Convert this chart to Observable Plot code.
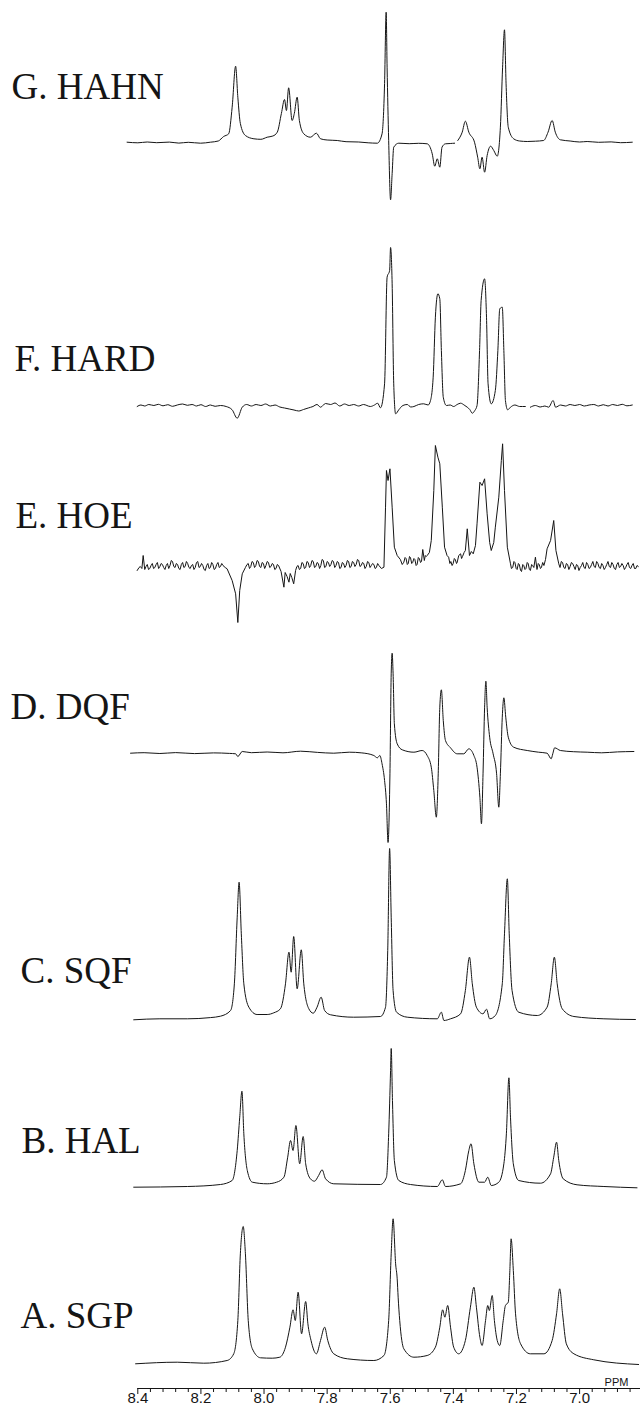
<!DOCTYPE html>
<html><head><meta charset="utf-8">
<script src="https://cdn.jsdelivr.net/npm/d3@7"></script>
<script src="https://cdn.jsdelivr.net/npm/@observablehq/plot@0.6"></script>
<style>html,body{margin:0;padding:0;background:#fff;} #chart{width:640px;} #chart svg{display:block;}</style>
</head><body><div id="chart"></div>
<script>
// Trace labels, top to bottom
const labels = ["G. HAHN", "F. HARD", "E. HOE", "D. DQF", "C. SQF", "B. HAL", "A. SGP"];

// Each trace: [chemical shift (ppm), intensity above its own baseline]
const hahn = [[8.434,0.3],[8.40,-0.3],[8.37,0.5],[8.34,-0.2],[8.30,0.4],[8.27,-0.6],[8.24,0.2],[8.201,-0.7],[8.17,0.3],[8.145,1.5],[8.128,6],[8.112,8.7],[8.101,35.3],[8.090,76.3],[8.083,45.3],[8.075,19],[8.059,7],[8.032,3.7],[8.01,3.2],[7.990,5.3],[7.972,6.5],[7.958,10.3],[7.945,29],[7.935,43],[7.929,32],[7.922,54.7],[7.911,22],[7.904,29],[7.895,45.3],[7.888,22],[7.874,8.7],[7.853,5.3],[7.834,9.3],[7.821,3.7],[7.80,2.5],[7.768,2],[7.74,0.8],[7.70,0.5],[7.67,-0.3],[7.641,-0.7],[7.626,8.7],[7.618,59],[7.613,130.3],[7.610,75.3],[7.605,2],[7.599,-57.3],[7.594,-31],[7.589,-4.7],[7.573,-0.7],[7.54,-1.2],[7.51,-0.8],[7.483,-1.3],[7.467,-11.3],[7.459,-23.7],[7.451,-16.3],[7.443,-24.7],[7.436,-4.7],[7.425,-1.3],[7.41,-1],[7.396,-0.7],[7.392,null],[7.386,2],[7.372,10.3],[7.362,21.3],[7.351,10.3],[7.333,0.3],[7.323,-14.7],[7.316,-26.3],[7.309,-14.7],[7.301,-29.7],[7.293,-13],[7.282,-3.7],[7.272,-8],[7.261,-13.7],[7.251,15.3],[7.244,75.3],[7.238,112.7],[7.233,58.7],[7.226,15.3],[7.209,3.7],[7.19,1.5],[7.166,1],[7.14,1.3],[7.114,2],[7.100,10.3],[7.087,22],[7.077,10.3],[7.061,2.7],[7.03,1.5],[7.00,0.5],[6.976,1],[6.94,0.2],[6.90,0.6],[6.87,-0.2],[6.833,0.3]];

const hard = [[8.402,-1],[8.390,0.5],[8.378,-0.5],[8.365,1],[8.349,0],[8.335,1.2],[8.320,-0.3],[8.305,0.8],[8.290,-0.8],[8.275,0.5],[8.258,1.5],[8.243,0.2],[8.228,1],[8.214,-0.5],[8.200,0.8],[8.185,-1],[8.170,0.5],[8.155,-0.8],[8.138,0],[8.120,-1],[8.101,-4.3],[8.085,-12.7],[8.069,-1.7],[8.055,1],[8.040,-0.5],[8.025,1],[8.010,0],[7.995,1.5],[7.980,-0.5],[7.965,0.5],[7.950,-1.5],[7.935,-2.5],[7.920,-3.5],[7.905,-4.5],[7.890,-5.5],[7.875,-4],[7.860,-2.5],[7.845,-1],[7.832,1],[7.821,-1.7],[7.805,2],[7.789,1],[7.775,2.5],[7.760,-0.5],[7.745,1.5],[7.730,0],[7.716,1],[7.700,-0.5],[7.685,1],[7.663,-1],[7.650,0.5],[7.640,2.3],[7.631,-2.3],[7.618,21.7],[7.610,128.3],[7.602,135],[7.599,158],[7.594,121.7],[7.589,21.7],[7.583,-8.3],[7.573,-4.3],[7.560,0],[7.546,1],[7.535,-1.5],[7.525,-1],[7.510,1],[7.494,1.7],[7.480,0.5],[7.473,4.3],[7.464,28.3],[7.457,88.3],[7.449,111.7],[7.443,106.7],[7.438,55],[7.432,8.3],[7.422,0],[7.410,0.5],[7.399,-1],[7.388,1],[7.377,2.3],[7.366,0.5],[7.356,-1.7],[7.348,-4],[7.340,-7.7],[7.332,-5],[7.325,0],[7.317,55],[7.312,105],[7.301,126.7],[7.295,88.3],[7.290,21.7],[7.280,1.7],[7.267,15],[7.259,55],[7.253,96.7],[7.245,98.3],[7.240,55],[7.235,5],[7.228,-4.3],[7.219,-1.7],[7.205,0.5],[7.190,-1],[7.172,-1],[7.167,null],[7.156,-1.7],[7.140,0],[7.125,-1.5],[7.110,-0.5],[7.098,-1.7],[7.084,5],[7.076,-1.7],[7.060,0.5],[7.045,-0.5],[7.030,1],[7.015,0],[7.000,1],[6.985,-0.5],[6.970,0.5],[6.955,1],[6.940,-0.5],[6.925,0.8],[6.910,-0.5],[6.895,1],[6.880,0],[6.865,1.2],[6.850,-0.3],[6.833,0.5]];

const hoe = [[8.402,-3],[8.396,0],[8.392,1],[8.387,-1],[8.383,12],[8.378,-2],[8.374,1],[8.370,3],[8.366,-2],[8.362,-1],[8.358,2],[8.354,4],[8.350,-1],[8.346,0],[8.342,3],[8.338,5],[8.334,-1],[8.330,1],[8.326,4],[8.322,3],[8.318,0],[8.314,-2],[8.310,2],[8.306,4],[8.302,-1],[8.298,2],[8.294,7],[8.290,6],[8.286,1],[8.282,0],[8.278,4],[8.274,3],[8.270,-1],[8.266,-2],[8.262,3],[8.258,5],[8.254,0],[8.250,1],[8.246,6],[8.242,4],[8.238,0],[8.234,-1],[8.230,2],[8.226,3],[8.222,-2],[8.218,0],[8.214,5],[8.210,6],[8.206,0],[8.202,1],[8.198,4],[8.194,2],[8.190,-2],[8.186,-3],[8.182,2],[8.178,4],[8.174,-1],[8.170,0],[8.166,5],[8.162,3],[8.158,-2],[8.154,-1],[8.150,3],[8.146,5],[8.142,0],[8.138,1],[8.134,4],[8.130,2],[8.123,0],[8.117,-1.3],[8.101,-13],[8.090,-26.3],[8.083,-55],[8.077,-23],[8.069,-6.3],[8.059,0],[8.054,3],[8.050,4],[8.046,-1],[8.042,1],[8.038,6],[8.034,5],[8.030,0],[8.026,2],[8.022,7],[8.018,6],[8.014,1],[8.010,0],[8.006,5],[8.002,4],[7.998,-1],[7.994,2],[7.990,6],[7.986,5],[7.982,0],[7.978,1],[7.974,4],[7.970,3],[7.966,-2],[7.962,-1],[7.958,3],[7.954,2],[7.946,-4],[7.937,-19.7],[7.933,-5],[7.927,-9],[7.921,-14.7],[7.917,-6],[7.912,-10],[7.906,-16.3],[7.900,-3],[7.896,1],[7.892,2],[7.888,-2],[7.884,-1],[7.880,5],[7.876,4],[7.872,-1],[7.868,0],[7.864,6],[7.860,5],[7.856,0],[7.852,2],[7.848,7],[7.844,6],[7.840,0],[7.836,1],[7.832,5],[7.828,4],[7.824,-1],[7.820,2],[7.816,8],[7.812,7],[7.808,0],[7.804,1],[7.800,6],[7.796,5],[7.792,1],[7.788,3],[7.784,7],[7.780,6],[7.776,0],[7.772,2],[7.768,6],[7.764,5],[7.760,-1],[7.756,0],[7.752,5],[7.748,4],[7.744,0],[7.740,2],[7.736,7],[7.732,6],[7.728,0],[7.724,1],[7.720,6],[7.716,5],[7.712,1],[7.708,3],[7.704,8],[7.700,7],[7.696,1],[7.692,2],[7.688,5],[7.684,4],[7.680,-1],[7.676,1],[7.672,6],[7.668,5],[7.664,0],[7.660,2],[7.656,4],[7.652,3],[7.648,-1],[7.644,0],[7.640,4],[7.636,2],[7.628,-1],[7.620,0.3],[7.615,60.3],[7.612,97],[7.607,87],[7.601,98.7],[7.594,60.3],[7.587,20.3],[7.578,12],[7.568,8],[7.562,3],[7.557,5.3],[7.553,10],[7.550,9],[7.546,3],[7.543,4],[7.539,11],[7.536,10],[7.532,4],[7.529,5],[7.525,9],[7.522,8],[7.518,2],[7.515,3],[7.511,10],[7.508,9],[7.504,5],[7.501,6],[7.497,18],[7.492,7],[7.489,12],[7.486,11],[7.483,12],[7.476,15],[7.470,27],[7.462,77],[7.457,122],[7.449,110.3],[7.443,103.7],[7.435,60.3],[7.428,20.3],[7.420,12],[7.415,10.3],[7.411,4],[7.408,6],[7.404,2],[7.401,3.7],[7.397,9],[7.394,8],[7.390,4],[7.388,5],[7.383,12],[7.377,13.7],[7.374,9],[7.371,11],[7.366,15],[7.362,17],[7.356,38.7],[7.349,12],[7.343,16],[7.337,13.7],[7.330,22],[7.325,43.7],[7.316,85.3],[7.309,82],[7.301,88.7],[7.293,53.7],[7.285,25],[7.280,17],[7.272,25],[7.267,40.3],[7.256,70.3],[7.248,107],[7.244,123.7],[7.238,77],[7.229,20.3],[7.219,3.7],[7.216,-1],[7.212,0],[7.208,6],[7.205,5],[7.201,-1],[7.198,-2],[7.194,4],[7.191,3],[7.187,-3],[7.184,-4],[7.180,3],[7.177,2],[7.173,-2],[7.170,-1],[7.166,5],[7.163,4],[7.159,-2],[7.156,-3],[7.152,3],[7.149,2],[7.145,0],[7.140,10.3],[7.135,-2],[7.131,4],[7.128,3],[7.124,-1],[7.121,0],[7.117,5],[7.113,2],[7.108,8],[7.103,18.7],[7.092,27],[7.082,47],[7.075,17],[7.066,3.7],[7.062,0],[7.058,6],[7.054,5],[7.050,0],[7.046,-1],[7.042,4],[7.038,3],[7.034,-2],[7.030,1],[7.026,5],[7.022,4],[7.018,1],[7.014,-2],[7.010,3],[7.006,2],[7.002,-3],[6.998,0],[6.994,2],[6.990,5],[6.986,0],[6.982,-1],[6.978,5],[6.974,3],[6.970,-1],[6.966,0],[6.962,3],[6.958,6],[6.954,1],[6.950,0],[6.946,6],[6.942,4],[6.938,0],[6.934,-1],[6.930,4],[6.926,2],[6.922,-2],[6.918,0],[6.914,3],[6.910,6],[6.906,1],[6.902,0],[6.898,5],[6.894,3],[6.890,-1],[6.886,-2],[6.882,3],[6.878,5],[6.874,0],[6.870,1],[6.866,4],[6.862,2],[6.858,-2],[6.854,0],[6.850,3],[6.846,5],[6.842,0],[6.838,-1],[6.834,2],[6.830,4],[6.826,-1],[6.822,-1],[6.818,2],[6.814,1]];

const dqf = [[8.423,0],[8.38,0.5],[8.33,-0.3],[8.28,0.6],[8.22,-0.4],[8.16,0.3],[8.11,-0.2],[8.090,-0.6],[8.083,-3.3],[8.069,1.7],[8.04,0.5],[7.99,1.2],[7.94,0.4],[7.884,2],[7.83,0.8],[7.779,0],[7.73,1],[7.69,0.3],[7.652,-2.3],[7.641,-4.6],[7.633,-2.3],[7.626,-10.6],[7.618,-27.3],[7.612,-50.6],[7.607,-89.3],[7.601,-20.6],[7.597,79.4],[7.594,100],[7.591,79.4],[7.587,29.4],[7.578,9.4],[7.562,3.4],[7.525,1],[7.499,2.7],[7.483,-2.3],[7.470,-14],[7.462,-37.3],[7.454,-64],[7.448,-20.6],[7.443,46],[7.438,63.4],[7.432,32.7],[7.425,12.7],[7.409,5.4],[7.388,-0.6],[7.367,-0.6],[7.351,4.4],[7.335,-2.3],[7.325,-14],[7.316,-44],[7.311,-70.6],[7.306,-20.6],[7.301,46],[7.297,72],[7.293,46],[7.285,16],[7.274,-0.6],[7.263,-20.6],[7.256,-54],[7.251,-20.6],[7.245,36],[7.240,55.4],[7.234,36],[7.226,16],[7.209,6],[7.166,2.7],[7.13,1],[7.103,0],[7.090,-5.6],[7.085,-0.6],[7.079,5.4],[7.061,2.7],[7.02,1.5],[6.976,1],[6.93,0.4],[6.88,1.3],[6.828,1.7]];

const sqf = [[8.413,-1],[8.33,0],[8.243,0],[8.17,1.2],[8.138,2.6],[8.106,8.3],[8.094,35],[8.085,101.6],[8.079,136.6],[8.072,85],[8.064,35],[8.048,11.6],[8.022,4.3],[7.990,4.3],[7.969,6],[7.948,10],[7.932,35],[7.921,66.6],[7.914,46.6],[7.906,82.3],[7.895,30],[7.882,69],[7.874,35],[7.858,10],[7.844,5.6],[7.832,11.6],[7.819,21.6],[7.808,8.3],[7.789,4],[7.716,1.6],[7.631,2.3],[7.615,11.6],[7.608,68.3],[7.602,170.3],[7.597,101.6],[7.591,28.3],[7.580,6.6],[7.546,1.6],[7.451,0],[7.438,6.6],[7.430,-1.7],[7.409,0],[7.377,5],[7.362,28.3],[7.349,61.6],[7.340,35],[7.327,11.6],[7.306,5],[7.295,9.6],[7.285,0],[7.267,3.3],[7.245,35],[7.238,85],[7.229,140],[7.223,85],[7.214,28.3],[7.193,6.6],[7.134,3.3],[7.103,11.6],[7.090,35],[7.080,61.6],[7.071,35],[7.055,10],[7.018,2.3],[6.923,0],[6.823,-0.7]];

const hal = [[8.413,-0.7],[8.243,0],[8.138,2],[8.101,6],[8.085,36],[8.077,69.3],[8.070,95.3],[8.064,52.7],[8.053,16],[8.037,4.3],[7.990,2.7],[7.960,4.3],[7.937,9.3],[7.925,29.3],[7.916,46],[7.908,36],[7.899,61],[7.887,22.7],[7.876,50],[7.868,22.7],[7.853,7.7],[7.840,5.3],[7.827,11],[7.816,16.7],[7.805,7.7],[7.779,2.7],[7.631,2],[7.612,9.3],[7.605,52.7],[7.599,116],[7.597,138],[7.593,86],[7.587,26],[7.573,6],[7.536,2],[7.451,0],[7.435,6.7],[7.425,0],[7.377,2.7],[7.362,16],[7.351,36],[7.344,42.7],[7.335,22.7],[7.319,4.3],[7.301,4.3],[7.291,9.3],[7.280,1],[7.256,4.3],[7.240,22.7],[7.232,52.7],[7.224,108.7],[7.219,69.3],[7.210,22.7],[7.193,6],[7.124,3.3],[7.092,12.7],[7.082,29.3],[7.073,44.3],[7.066,26],[7.052,7.7],[7.008,1.7],[6.923,0],[6.818,-1.3]];

const sgp = [[8.407,0],[8.275,1.6],[8.191,0.6],[8.117,3.3],[8.096,10],[8.083,43.3],[8.075,110],[8.066,137.3],[8.059,110],[8.050,43.3],[8.037,15],[8.011,6],[7.974,5.6],[7.950,6.6],[7.932,16.6],[7.918,36.6],[7.908,54],[7.901,43.3],[7.892,71.6],[7.881,30],[7.868,62.3],[7.861,40],[7.851,23.3],[7.834,10],[7.821,23.3],[7.808,36.6],[7.798,23.3],[7.779,10],[7.736,5],[7.652,3.3],[7.620,8.3],[7.605,43.3],[7.597,110],[7.591,145],[7.583,100],[7.578,85],[7.575,66.6],[7.570,43.3],[7.557,15],[7.525,6.6],[7.483,8.3],[7.457,16.6],[7.443,36.6],[7.434,54],[7.427,46.6],[7.418,58.3],[7.409,36.6],[7.399,16.6],[7.383,10],[7.362,23.3],[7.346,56.6],[7.335,76.6],[7.327,56.6],[7.316,26.6],[7.309,18.3],[7.298,43.3],[7.291,58.3],[7.286,53.3],[7.277,68.3],[7.270,43.3],[7.261,23.3],[7.253,18.3],[7.242,43.3],[7.235,58.3],[7.226,61.6],[7.221,93.3],[7.217,125],[7.210,93.3],[7.203,50],[7.187,20],[7.156,10],[7.113,10],[7.087,23.3],[7.073,50],[7.063,75],[7.054,50],[7.042,20],[7.018,10],[6.955,4],[6.813,-0.7]];

// Axis tick values (ppm)
const majorTicks = [8.4, 8.2, 8.0, 7.8, 7.6, 7.4, 7.2, 7.0];
const minorTicks = [8.36, 8.32, 8.28, 8.24, 8.16, 8.12, 8.08, 8.04, 7.96, 7.92, 7.88, 7.84, 7.76, 7.72, 7.68, 7.64, 7.56, 7.52, 7.48, 7.44, 7.36, 7.32, 7.28, 7.24, 7.16, 7.12, 7.08, 7.04, 6.96, 6.92, 6.88, 6.84];
const axisUnit = "PPM";

const series = [hahn, hard, hoe, dqf, sqf, hal, sgp];

// Page layout of the stacked panels (pixels)
const layout = [
  {top: 0,    bottom: 222,  base: 142,    lx: 11, ly: 98},
  {top: 222,  bottom: 432,  base: 405,    lx: 14, ly: 370},
  {top: 432,  bottom: 640,  base: 567,    lx: 15, ly: 527},
  {top: 640,  bottom: 845,  base: 752.7,  lx: 10, ly: 718},
  {top: 845,  bottom: 1040, base: 1018.3, lx: 20, ly: 982},
  {top: 1040, bottom: 1212, base: 1186,   lx: 21, ly: 1152},
  {top: 1212, bottom: 1388, base: 1363.3, lx: 20, ly: 1327}
];
const ML = 137.3, W = 640, AXIS_MB = 26, LABEL_FS = 37;
const ink = "#151515";
const serif = "'Liberation Serif', 'Times New Roman', 'DejaVu Serif', serif";
const narrow = "'Liberation Sans Narrow', 'Arial Narrow', 'Liberation Sans', sans-serif";

const chart = document.getElementById("chart");
series.forEach((data, i) => {
  const L = layout[i];
  const last = i === series.length - 1;
  const mb = last ? AXIS_MB : 0;
  const h = L.bottom - L.top + mb;
  const marks = [
    Plot.line(data, {x: d => d[0], y: d => d[1], stroke: ink, strokeWidth: 1, curve: i === 2 ? "linear" : "monotone-x"}),
    Plot.text([labels[i]], {
      frameAnchor: "top-left", dx: L.lx - ML, dy: L.ly - L.top - 0.71 * LABEL_FS,
      lineAnchor: "top", textAnchor: "start",
      fontFamily: serif, fontSize: LABEL_FS, fill: ink
    })
  ];
  if (last) {
    marks.push(
      Plot.frame({anchor: "bottom", stroke: ink, strokeWidth: 1}),
      Plot.axisX(minorTicks, {anchor: "bottom", tickSize: 4, tickFormat: () => "", stroke: ink}),
      Plot.axisX(majorTicks, {anchor: "bottom", tickSize: 6, tickPadding: -2, tickFormat: d => d.toFixed(1),
        fontSize: 15, fontFamily: narrow, stroke: ink, fill: ink}),
      Plot.text([axisUnit], {frameAnchor: "bottom-right", dx: -24, dy: -3, textAnchor: "middle", lineAnchor: "bottom",
        fontSize: 11, fontFamily: narrow, fill: ink})
    );
  }
  const plot = Plot.plot({
    width: W, height: h,
    marginLeft: ML, marginRight: 0, marginTop: 0, marginBottom: mb,
    x: {domain: [8.4, 6.807], axis: null},
    y: {domain: [L.base - L.bottom, L.base - L.top], axis: null},
    style: {background: "transparent", overflow: "visible"},
    marks
  });
  chart.appendChild(plot);
});
</script>
</body></html>
